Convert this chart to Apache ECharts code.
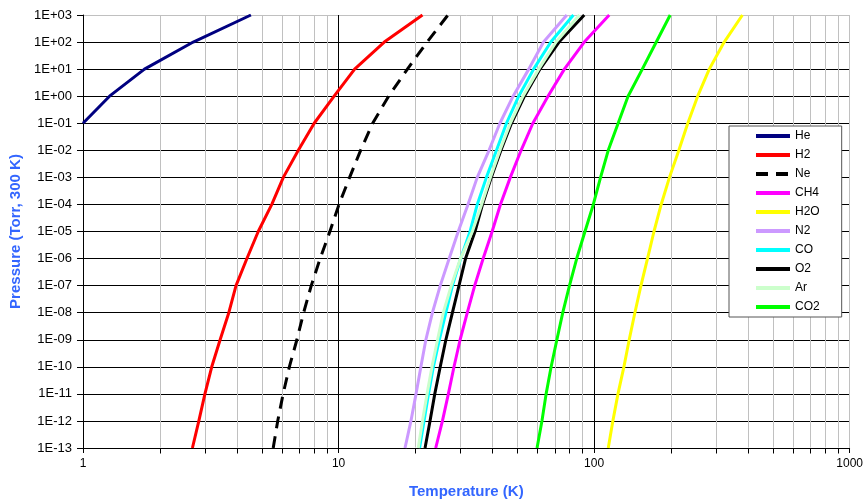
<!DOCTYPE html>
<html>
<head>
<meta charset="utf-8">
<script src="https://cdn.jsdelivr.net/npm/echarts@6/dist/echarts.min.js"></script>
<style>
  html, body { margin: 0; padding: 0; background: #fff; }
  #chart { width: 866px; height: 504px; }
</style>
</head>
<body>
<div id="chart"></div>
<script>
// Pressure levels (Torr, 300 K) at which each gas temperature is tabulated
const pressureTorr = [1e-13, 1e-12, 1e-11, 1e-10, 1e-9, 1e-8, 1e-7, 1e-6, 1e-5,
                      1e-4, 1e-3, 1e-2, 1e-1, 1, 10, 100, 1000];
const pressureHe = [1e-1, 1, 10, 100, 1000];

// Temperatures (K) reaching each pressure level
const tempHe  = [1.0, 1.27, 1.74, 2.7, 4.54];
const tempH2  = [2.68, 2.84, 3.0, 3.19, 3.44, 3.72, 3.97, 4.38, 4.85, 5.48, 6.08, 6.96, 8.03, 9.61, 11.56, 15.1, 21.3];
const tempNe  = [5.55, 5.78, 6.07, 6.42, 6.87, 7.3, 7.82, 8.47, 9.25, 10.04, 11.05, 12.2, 13.6, 15.7, 18.6, 22.2, 26.8];
const tempCH4 = [24.0, 25.5, 26.9, 28.3, 29.9, 31.9, 34.1, 36.8, 39.9, 43.0, 47.0, 51.8, 57.6, 66.0, 76.5, 91.5, 114.6];
const tempH2O = [113.6, 118.4, 124.0, 130.8, 137.2, 144.4, 152.5, 161.8, 171.5, 183.0, 197.2, 214.6, 232.6, 254.3, 282.3, 322.9, 380.6];
const tempN2  = [18.2, 19.2, 20.1, 21.0, 21.96, 23.3, 25.0, 27.1, 29.4, 32.1, 34.9, 38.8, 42.8, 48.2, 55.5, 63.4, 78.2];
const tempCO  = [20.75, 21.6, 22.5, 23.5, 24.8, 26.3, 27.9, 30.06, 32.7, 34.9, 37.9, 41.5, 45.4, 50.7, 58.0, 67.7, 83.0];
const tempO2  = [21.8, 22.8, 23.8, 25.0, 26.3, 27.9, 29.6, 31.4, 34.2, 36.6, 39.6, 43.2, 47.5, 53.4, 61.4, 72.9, 91.5];
const tempAr  = [20.5, 21.3, 22.2, 23.2, 24.4, 25.7, 27.6, 30.0, 33.4, 36.3, 39.3, 42.8, 47.0, 52.7, 60.7, 71.0, 87.6];
const tempCO2 = [59.8, 62.5, 64.9, 67.9, 71.5, 75.4, 80.1, 85.5, 92.1, 99.3, 106.0, 113.6, 124.2, 135.8, 154.4, 175.1, 198.5];

// Axis tick labels
const xTickLabels = ['1', '10', '100', '1000'];
const yTickLabels = ['1E-13', '1E-12', '1E-11', '1E-10', '1E-09', '1E-08', '1E-07', '1E-06',
                     '1E-05', '1E-04', '1E-03', '1E-02', '1E-01', '1E+00', '1E+01', '1E+02', '1E+03'];
// Intermediate temperatures that get a light vertical grid line and a tick
const minorGridK = [2, 3, 4, 5, 6, 7, 8, 9, 20, 30, 40, 50, 60, 70, 80, 90,
                    200, 300, 400, 500, 600, 700, 800, 900];

const FONT = '"Liberation Sans", Arial, sans-serif';
const X_MIN = 0, X_MAX = 3, Y_MIN = -13, Y_MAX = 3;

// Both axes run in decades (log10 of the physical value)
function toPoints(temps, pressures) {
  return temps.map((t, i) => [Math.log10(t), Math.log10(pressures[i])]);
}

const gases = [
  { name: 'He',  temps: tempHe,  pres: pressureHe,   color: '#000080' },
  { name: 'H2',  temps: tempH2,  pres: pressureTorr, color: '#ff0000' },
  { name: 'Ne',  temps: tempNe,  pres: pressureTorr, color: '#000000', dash: [12, 8] },
  { name: 'CH4', temps: tempCH4, pres: pressureTorr, color: '#ff00ff' },
  { name: 'H2O', temps: tempH2O, pres: pressureTorr, color: '#ffff00' },
  { name: 'N2',  temps: tempN2,  pres: pressureTorr, color: '#cc99ff' },
  { name: 'CO',  temps: tempCO,  pres: pressureTorr, color: '#00ffff' },
  { name: 'O2',  temps: tempO2,  pres: pressureTorr, color: '#000000' },
  { name: 'Ar',  temps: tempAr,  pres: pressureTorr, color: '#ccffcc' },
  { name: 'CO2', temps: tempCO2, pres: pressureTorr, color: '#00ff00' }
];

const lineSeries = gases.map(g => ({
  name: g.name,
  type: 'line',
  z: 3,
  data: toPoints(g.temps, g.pres),
  symbol: 'none',
  smooth: false,
  silent: true,
  animation: false,
  color: g.color,
  lineStyle: { color: g.color, width: 3, type: g.dash || 'solid', cap: 'butt', join: 'round' }
}));

// Light vertical grid lines and short ticks at 2..9 of each decade
const minorSeries = {
  type: 'custom',
  name: 'minor',
  silent: true,
  animation: false,
  clip: false,
  z: 1,
  data: minorGridK.map(k => [Math.log10(k), Y_MIN]),
  renderItem: function (params, api) {
    const v = api.value(0);
    const top = api.coord([v, Y_MAX]);
    const bot = api.coord([v, Y_MIN]);
    const x = Math.round(top[0]) + 0.5;
    const yt = Math.round(top[1]) + 0.5;
    const yb = Math.round(bot[1]) + 0.5;
    return {
      type: 'group',
      children: [
        { type: 'line', shape: { x1: x, y1: yt, x2: x, y2: yb - 1 },
          style: { stroke: '#c0c0c0', lineWidth: 1, fill: null } },
        { type: 'line', shape: { x1: x, y1: yb, x2: x, y2: yb + 5 },
          style: { stroke: '#000', lineWidth: 1, fill: null } }
      ]
    };
  }
};

const ySplitColors = yTickLabels.map((_, i) => i === yTickLabels.length - 1 ? '#c0c0c0' : '#000');
const xSplitColors = xTickLabels.map((_, i) => i === xTickLabels.length - 1 ? '#c0c0c0' : '#000');

const chart = echarts.init(document.getElementById('chart'), null, { renderer: 'canvas' });
chart.setOption({
  backgroundColor: '#fff',
  animation: false,
  textStyle: { fontFamily: FONT },
  grid: { left: 83, top: 15, width: 772, height: 436, containLabel: false },
  xAxis: {
    type: 'value',
    min: X_MIN, max: X_MAX, interval: 1,
    name: 'Temperature (K)',
    nameLocation: 'middle',
    nameGap: 36,
    nameTextStyle: { color: '#3366ff', fontWeight: 'bold', fontSize: 15, fontFamily: FONT },
    axisLine: { onZero: false, lineStyle: { color: '#000', width: 1 } },
    axisTick: { show: true, length: 5, inside: false, lineStyle: { color: '#000' } },
    axisLabel: { margin: 10, color: '#000', fontSize: 12, fontFamily: FONT,
                 formatter: v => xTickLabels[Math.round(v)] },
    splitLine: { show: true, lineStyle: { color: xSplitColors, width: 1 } }
  },
  yAxis: {
    type: 'value',
    min: Y_MIN, max: Y_MAX, interval: 1,
    name: 'Pressure (Torr, 300 K)',
    nameLocation: 'middle',
    nameGap: 58,
    nameRotate: 90,
    nameTextStyle: { color: '#3366ff', fontWeight: 'bold', fontSize: 15, fontFamily: FONT },
    axisLine: { onZero: false, lineStyle: { color: '#000', width: 1 } },
    axisTick: { show: true, length: 6, inside: false, lineStyle: { color: '#000' } },
    axisLabel: { margin: 11, color: '#000', fontSize: 13, fontFamily: FONT,
                 formatter: v => yTickLabels[Math.round(v) - Y_MIN] },
    splitLine: { show: true, lineStyle: { color: ySplitColors, width: 1 } }
  },
  legend: {
    data: gases.map(g => g.name),
    orient: 'vertical',
    left: 729,
    top: 126,
    padding: [3, 22, 3, 25],
    itemGap: 5,
    itemWidth: 34,
    itemHeight: 14,
    backgroundColor: '#fff',
    borderColor: '#555',
    borderWidth: 1,
    selectedMode: false,
    itemStyle: { opacity: 0 },
    lineStyle: { width: 4 },
    textStyle: { color: '#000', fontSize: 12, fontFamily: FONT, lineHeight: 14 }
  },
  series: [minorSeries].concat(lineSeries)
});
</script>
</body>
</html>
